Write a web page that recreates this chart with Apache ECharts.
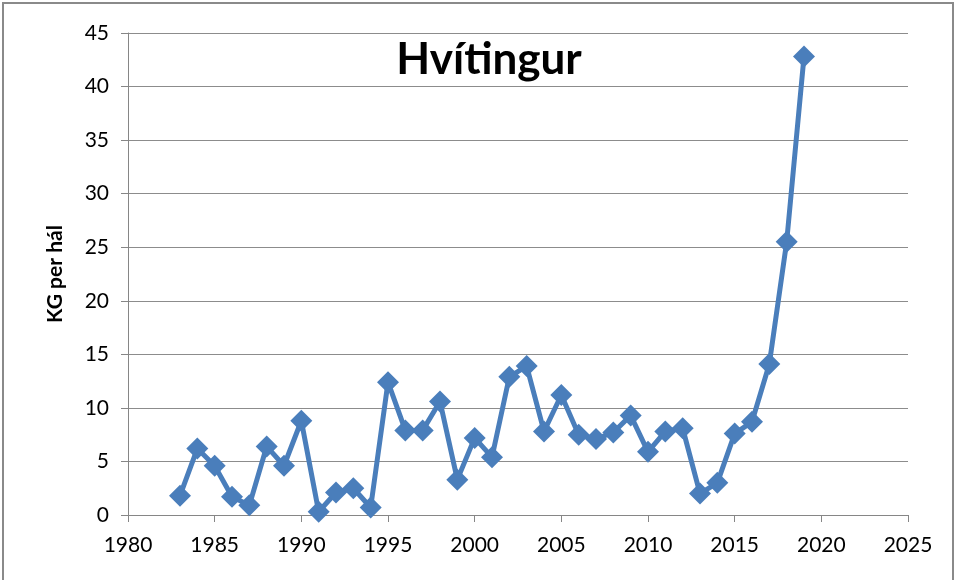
<!DOCTYPE html>
<html>
<head>
<meta charset="utf-8">
<style>
    html,body{margin:0;padding:0;background:#fff;}
    #main{width:956px;height:580px;}
</style>
<script src="https://cdn.jsdelivr.net/npm/echarts@6/dist/echarts.min.js"></script>
</head>
<body>
<div id="main"></div>
<script>
    // ár og kg per hál, lesið af myndinni
    var years = [1983,1984,1985,1986,1987,1988,1989,1990,1991,1992,1993,1994,1995,1996,1997,1998,1999,2000,
        2001,2002,2003,2004,2005,2006,2007,2008,2009,2010,2011,2012,2013,2014,2015,2016,2017,2018,2019];
    var kgPerHal = [1.8,6.2,4.6,1.7,0.9,6.4,4.6,8.8,0.3,2.1,2.5,0.7,12.4,7.9,7.9,10.6,3.3,7.2,
        5.4,12.9,13.9,7.8,11.2,7.5,7.1,7.7,9.3,5.9,7.8,8.1,2.0,3.0,7.6,8.7,14.1,25.5,42.8];
    var chartTitle = 'Hvítingur';
    var yName = 'KG per hál';

    var seriesData = [];
    for (var i = 0; i < years.length; i++) {
        seriesData.push([years[i], kgPerHal[i]]);
    }

    var font = 'Lato, "Open Sans", sans-serif';
    var option = {
        animation: false,
        backgroundColor: '#fff',
        title: {
            text: chartTitle,
            left: 484,
            top: 33,
            textAlign: 'center',
            textStyle: {fontFamily: font, fontSize: 44, fontWeight: 'bold', color: '#000'}
        },
        graphic: [{
            type: 'rect',
            shape: {x: 3, y: 3, width: 950, height: 600},
            style: {fill: 'none', stroke: '#8a8a8a', lineWidth: 2}
        }],
        grid: {left: 128, right: 48, top: 33, bottom: 65},
        xAxis: {
            type: 'value',
            min: 1980,
            max: 2025,
            interval: 5,
            axisLine: {lineStyle: {color: '#868686', width: 1}},
            axisTick: {show: true, length: 7, lineStyle: {color: '#868686'}},
            axisLabel: {
                fontFamily: font, fontSize: 21, color: '#000', margin: 20,
                formatter: function (v) { return String(v); }
            },
            splitLine: {show: false}
        },
        yAxis: {
            type: 'value',
            min: 0,
            max: 45,
            interval: 5,
            name: yName,
            nameLocation: 'middle',
            nameGap: 62,
            nameTextStyle: {fontFamily: font, fontSize: 21, fontWeight: 'bold', color: '#000'},
            axisLine: {show: true, lineStyle: {color: '#868686', width: 1}},
            axisTick: {show: true, length: 7, lineStyle: {color: '#868686'}},
            axisLabel: {fontFamily: font, fontSize: 21, color: '#000', margin: 19},
            splitLine: {lineStyle: {color: '#8c8c8c', width: 1}}
        },
        series: [{
            type: 'line',
            data: seriesData,
            symbol: 'diamond',
            symbolSize: 22,
            itemStyle: {color: '#4a7ebb'},
            lineStyle: {color: '#4a7ebb', width: 5}
        }]
    };
    var myChart = echarts.init(document.getElementById('main'));
    myChart.setOption(option);
</script>
</body>
</html>
